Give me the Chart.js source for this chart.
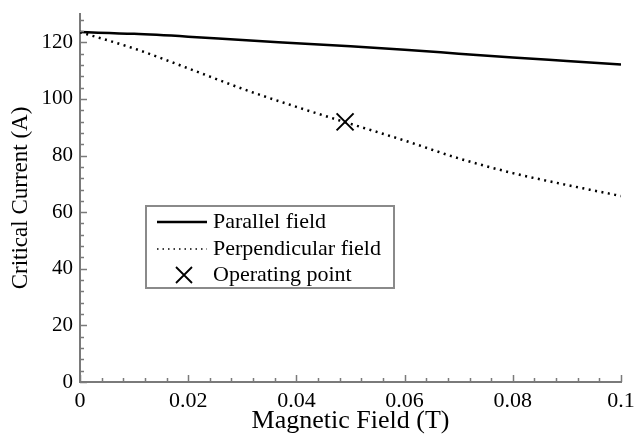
<!DOCTYPE html>
<html>
<head>
<meta charset="utf-8">
<script src="https://cdn.jsdelivr.net/npm/chart.js@4.4.1/dist/chart.umd.min.js"></script>
<style>
  html, body { margin: 0; padding: 0; background: #fff; }
  canvas { display: block; }
</style>
</head>
<body>
<canvas id="icChart" width="635" height="437"></canvas>
<script>
// magnetic field (T) at which the curves were read
const FIELD = [0, 0.01, 0.02, 0.03, 0.04, 0.05, 0.06, 0.07, 0.08, 0.09, 0.1];
// critical current (A)
const PARALLEL = [123.6, 123.0, 122.0, 120.8, 119.7, 118.6, 117.4, 116.0, 114.6, 113.4, 112.2];
const PERPENDICULAR = [123.6, 117.8, 110.8, 103.6, 97.2, 91.2, 85.3, 79.0, 73.8, 69.6, 65.7];
const OPERATING_FIELD = [0.049];
const OPERATING_CURRENT = [91.9];

const SERIES_LABELS = ["Parallel field", "Perpendicular field", "Operating point"];

const X_TICKS = [0, 0.02, 0.04, 0.06, 0.08, 0.1];
const X_TICK_LABELS = ["0", "0.02", "0.04", "0.06", "0.08", "0.1"];
const Y_TICKS = [0, 20, 40, 60, 80, 100, 120];
const Y_TICK_LABELS = ["0", "20", "40", "60", "80", "100", "120"];

const SERIF = "'Liberation Serif', 'Times New Roman', serif";
const AXIS_GREY = "#7a7a7a";

const toPoints = (xs, ys) => xs.map((x, i) => ({ x: x, y: ys[i] }));

function labelFor(ticks, labels, v) {
    const i = ticks.findIndex(t => Math.abs(t - v) < 1e-9);
    return i >= 0 ? labels[i] : "";
}

// ticks point into the plot, minor ones shorter
const inwardTicks = {
    id: "inwardTicks",
    afterDraw(chart) {
        const { ctx, chartArea, scales } = chart;
        ctx.save();
        ctx.strokeStyle = AXIS_GREY;
        ctx.lineWidth = 1.5;
        scales.x.ticks.forEach(t => {
            const px = Math.round(scales.x.getPixelForValue(t.value)) + 0.5;
            const len = t.label !== "" ? 7 : 4;
            ctx.beginPath();
            ctx.moveTo(px, chartArea.bottom);
            ctx.lineTo(px, chartArea.bottom - len);
            ctx.stroke();
        });
        scales.y.ticks.forEach(t => {
            const py = Math.round(scales.y.getPixelForValue(t.value)) + 0.5;
            const len = t.label !== "" ? 7 : 4;
            ctx.beginPath();
            ctx.moveTo(chartArea.left, py);
            ctx.lineTo(chartArea.left + len, py);
            ctx.stroke();
        });
        ctx.restore();
    }
};

// boxed legend sitting inside the plot area
const boxLegend = {
    id: "boxLegend",
    afterDraw(chart) {
        const ctx = chart.ctx;
        const left = 146, top = 206, w = 248, h = 82;
        const rows = [222, 249, 275];
        ctx.save();
        ctx.fillStyle = "#fff";
        ctx.fillRect(left, top, w, h);
        ctx.strokeStyle = "#8a8a8a";
        ctx.lineWidth = 2;
        ctx.strokeRect(left, top, w, h);

        chart.data.datasets.forEach((ds, i) => {
            const y = rows[i];
            ctx.strokeStyle = ds.borderColor;
            if (ds.showLine) {
                ctx.lineWidth = ds.borderDash ? 1.5 : ds.borderWidth;
                ctx.setLineDash(ds.borderDash ? [1.5, 4] : []);
                ctx.beginPath();
                ctx.moveTo(157, y);
                ctx.lineTo(207, y);
                ctx.stroke();
                ctx.setLineDash([]);
            } else {
                const r = 8;
                ctx.lineWidth = 1.8;
                ctx.beginPath();
                ctx.moveTo(184 - r, y - r);
                ctx.lineTo(184 + r, y + r);
                ctx.moveTo(184 - r, y + r);
                ctx.lineTo(184 + r, y - r);
                ctx.stroke();
            }
            ctx.fillStyle = "#000";
            ctx.font = "22px " + SERIF;
            ctx.textBaseline = "middle";
            ctx.fillText(ds.label, 213, y);
        });
        ctx.restore();
    }
};

new Chart(document.getElementById("icChart"), {
    type: "scatter",
    data: {
        datasets: [{
            label: SERIES_LABELS[0],
            data: toPoints(FIELD, PARALLEL),
            showLine: true,
            borderColor: "#000",
            borderWidth: 2.5,
            pointRadius: 0,
            pointHoverRadius: 0,
            cubicInterpolationMode: "monotone"
        }, {
            label: SERIES_LABELS[1],
            data: toPoints(FIELD, PERPENDICULAR),
            showLine: true,
            borderColor: "#000",
            borderWidth: 2.5,
            borderDash: [2, 4.5],
            pointRadius: 0,
            pointHoverRadius: 0,
            cubicInterpolationMode: "monotone"
        }, {
            label: SERIES_LABELS[2],
            data: toPoints(OPERATING_FIELD, OPERATING_CURRENT),
            showLine: false,
            pointStyle: "crossRot",
            pointRadius: 12,
            pointHoverRadius: 12,
            borderColor: "#000",
            pointBorderWidth: 2
        }]
    },
    options: {
        responsive: false,
        animation: false,
        devicePixelRatio: 1,
        layout: { padding: { top: 13, right: 13, left: 0, bottom: 0 } },
        plugins: {
            legend: { display: false },
            tooltip: { enabled: false }
        },
        scales: {
            x: {
                type: "linear",
                min: 0,
                max: 0.1,
                ticks: {
                    stepSize: 0.004,
                    autoSkip: false,
                    maxRotation: 0,
                    color: "#000",
                    padding: 6,
                    font: { family: SERIF, size: 22 },
                    callback: v => labelFor(X_TICKS, X_TICK_LABELS, v)
                },
                grid: { drawOnChartArea: false, drawTicks: false },
                border: { color: AXIS_GREY, width: 2 },
                title: {
                    display: true,
                    text: "Magnetic Field (T)",
                    color: "#000",
                    font: { family: SERIF, size: 26 },
                    padding: { top: 0, bottom: 0 }
                },
                afterFit(scale) {
                    scale.height = 55;
                    scale.paddingLeft = 0;
                    scale.paddingRight = 0;
                }
            },
            y: {
                type: "linear",
                min: 0,
                max: 130,
                ticks: {
                    stepSize: 4,
                    includeBounds: false,
                    autoSkip: false,
                    color: "#000",
                    padding: 7,
                    font: { family: SERIF, size: 21 },
                    callback: v => labelFor(Y_TICKS, Y_TICK_LABELS, v)
                },
                grid: { drawOnChartArea: false, drawTicks: false },
                border: { color: AXIS_GREY, width: 2 },
                title: {
                    display: true,
                    text: "Critical Current (A)",
                    color: "#000",
                    font: { family: SERIF, size: 23 },
                    padding: { top: 7, bottom: 0 }
                },
                afterFit(scale) {
                    scale.width = 80;
                    scale.paddingTop = 0;
                    scale.paddingBottom = 0;
                }
            }
        }
    },
    plugins: [inwardTicks, boxLegend]
});
</script>
</body>
</html>
